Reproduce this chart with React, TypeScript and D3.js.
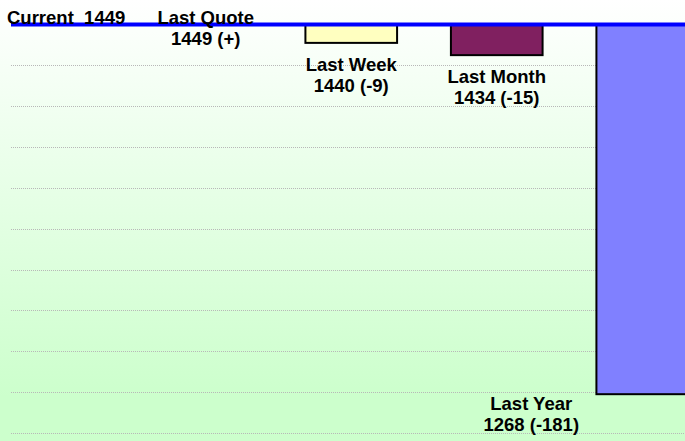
import * as d3 from "d3";

const categories = ["Last Quote", "Last Week", "Last Month", "Last Year"];
const values = [1449, 1440, 1434, 1268];
const changes = ["(+)", "(-9)", "(-15)", "(-181)"];
const colors = ["#ffffc0", "#ffffc0", "#802060", "#8080ff"];
const current = 1449;
const gridStep = 20;
const yMin = 1249;

const width = 685;
const height = 441;

// label placement relative to bar end (first baseline) and band center
const labelDy = [-1, 28, 28, 16];
const labelDx = [0, 0, 0, -111];

const App = () => {
  const x = d3
    .scaleBand()
    .domain(categories)
    .range([133, 715])
    .paddingInner(0.37)
    .paddingOuter(0.185);

  const y = d3.scaleLinear().domain([yMin, current]).range([433, 24.5]);

  const grid = d3.range(current - gridStep, yMin - 1, -gridStep);
  const font = "'Liberation Sans', Arial, sans-serif";

  return (
    <svg
      width={width}
      height={height}
      style={{ position: "absolute", left: 0, top: 0 }}
    >
      <defs>
        <linearGradient id="bg" x1="0" y1="0" x2="0" y2="1">
          <stop offset="0" stopColor="#ffffff" />
          <stop offset="0.9" stopColor="#ccffcc" />
          <stop offset="1" stopColor="#ccffcc" />
        </linearGradient>
      </defs>
      <rect x={0} y={0} width={width} height={height} fill="url(#bg)" />

      {grid.map((g) => (
        <line
          key={g}
          x1={11}
          x2={width}
          y1={Math.round(y(g)) + 0.5}
          y2={Math.round(y(g)) + 0.5}
          stroke="#b8b8b8"
          strokeDasharray="1 1"
        />
      ))}

      {categories.map((c, i) =>
        values[i] < current ? (
          <rect
            key={c}
            x={x(c)}
            y={y(current)}
            width={x.bandwidth()}
            height={y(values[i]) - y(current)}
            fill={colors[i]}
            stroke="#000"
            strokeWidth={2}
          />
        ) : null
      )}

      <line
        x1={11}
        x2={width}
        y1={y(current)}
        y2={y(current)}
        stroke="#0000ff"
        strokeWidth={4}
      />

      <text
        x={7}
        y={24}
        fontFamily={font}
        fontWeight="bold"
        fontSize={18.5}
        style={{ whiteSpace: "pre" }}
      >
        {`Current  ${current}`}
      </text>

      {categories.map((c, i) => {
        const cx = (x(c) ?? 0) + x.bandwidth() / 2 + labelDx[i];
        const by = y(values[i]) + labelDy[i];
        return (
          <text
            key={c}
            x={cx}
            y={by}
            textAnchor="middle"
            fontFamily={font}
            fontWeight="bold"
            fontSize={18.5}
          >
            <tspan x={cx}>{c}</tspan>
            <tspan x={cx} dy={21}>
              {`${values[i]} ${changes[i]}`}
            </tspan>
          </text>
        );
      })}
    </svg>
  );
};

export default App;
